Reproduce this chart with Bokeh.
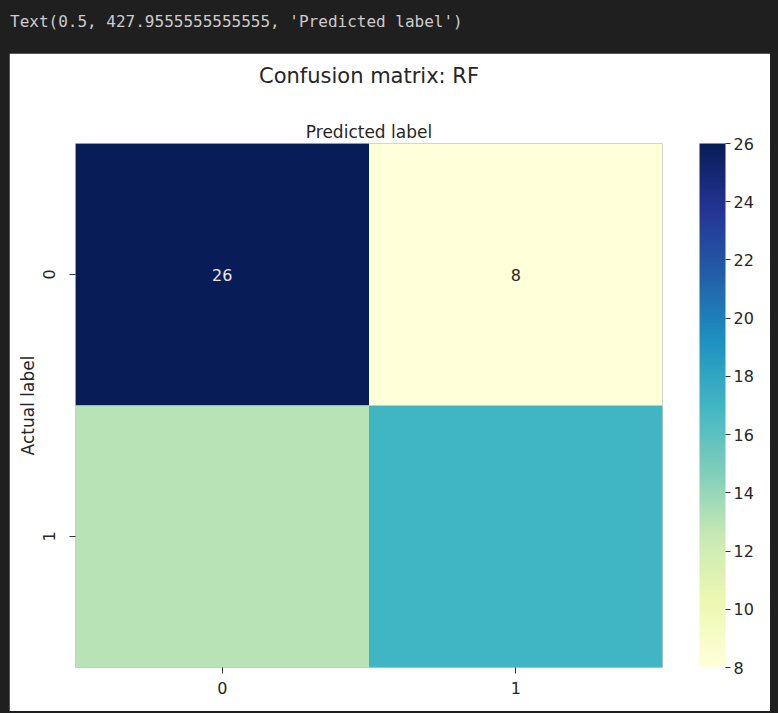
import numpy as np
from bokeh.plotting import figure
from bokeh.models import (ColumnDataSource, LinearColorMapper, ColorBar, FixedTicker,
                          Title, Div)
from bokeh.layouts import column
from bokeh.embed import file_html
from bokeh.resources import INLINE
from bokeh.palettes import YlGnBu9
from bokeh.core.properties import value

# ---- data ----
x_labels = ["0", "1"]          # predicted label
y_labels = ["0", "1"]          # actual label
actual = ["0", "0", "1", "1"]
predicted = ["0", "1", "0", "1"]
counts = [26, 8, 13, 17]
annot = ["26", "8", "", ""]    # only the first row is annotated in the reference
cbar_ticks = [8, 10, 12, 14, 16, 18, 20, 22, 24, 26]
vmin, vmax = 8, 26
header_text = "Text(0.5, 427.9555555555555, 'Predicted label')"

FONT = "DejaVu Sans"

# ---- continuous YlGnBu palette (light -> dark) ----
base = list(reversed(YlGnBu9))
def hex2rgb(h):
    h = h.lstrip("#")
    return [int(h[i:i + 2], 16) for i in (0, 2, 4)]
base_rgb = np.array([hex2rgb(c) for c in base], dtype=float)
pos = np.linspace(0, 1, len(base))
t = np.linspace(0, 1, 256)
interp = np.stack([np.interp(t, pos, base_rgb[:, k]) for k in range(3)], axis=1)
palette = ["#%02x%02x%02x" % tuple(int(round(v)) for v in row) for row in interp]

def lum_of(v):
    f = (v - vmin) / (vmax - vmin)
    r, g, b = interp[int(round(f * 255))] / 255.0
    return 0.2126 * r + 0.7152 * g + 0.0722 * b

text_colors = ["#e8e8f0" if lum_of(v) < 0.4 else "#262626" for v in counts]

source = ColumnDataSource(dict(actual=actual, predicted=predicted, counts=counts,
                               annot=annot, tcol=text_colors))

mapper = LinearColorMapper(palette=palette, low=vmin, high=vmax)

p = figure(x_range=x_labels, y_range=list(reversed(y_labels)),
           width=761, height=658, output_backend="svg", toolbar_location=None,
           min_border_left=66, min_border_right=108, min_border_bottom=44,
           min_border_top=90, background_fill_color="white",
           border_fill_color="white",
           title="Confusion matrix: RF")
p.margin = (0, 0, 0, 9)

p.rect(x="predicted", y="actual", width=1, height=1, source=source,
       fill_color={"field": "counts", "transform": mapper}, line_color=None)
p.text(x="predicted", y="actual", text="annot", source=source,
       text_align="center", text_baseline="middle", text_color="tcol",
       text_font_size="16px", text_font=value(FONT))

p.outline_line_color = None
p.grid.grid_line_color = None

for ax in (p.xaxis[0], p.yaxis[0]):
    ax.axis_line_color = None
    ax.major_tick_line_color = "#333333"
    ax.major_tick_out = 6
    ax.major_tick_in = 0
    ax.minor_tick_line_color = None
    ax.major_label_text_font_size = "16px"
    ax.major_label_text_color = "#262626"
    ax.major_label_text_font = FONT
    ax.axis_label_text_font_size = "17px"
    ax.axis_label_text_font_style = "normal"
    ax.axis_label_text_color = "#262626"
    ax.axis_label_text_font = FONT

p.yaxis.axis_label = "Actual label"
p.yaxis.major_label_orientation = "vertical"
p.yaxis.major_label_standoff = 15
p.yaxis.axis_label_standoff = 2
p.xaxis.major_label_standoff = 8

p.title.align = "center"
p.title.text_font_size = "21px"
p.title.text_font_style = "normal"
p.title.text_color = "#262626"
p.title.text_font = FONT
p.title.standoff = 4
p.add_layout(Title(text="Predicted label", align="center",
                   text_font_size="17px", text_font_style="normal",
                   text_color="#262626", text_font=FONT, standoff=4), "above")
# blank spacer between the axes label and the figure title
p.add_layout(Title(text=" ", align="center", text_font_size="16px",
                   text_font=FONT, standoff=7), "above")

cbar = ColorBar(color_mapper=mapper, ticker=FixedTicker(ticks=cbar_ticks),
                width=26, height=524, padding=0, margin=0, location=(37, 0),
                major_tick_out=5, major_tick_in=0,
                major_tick_line_color="#333333", minor_tick_line_color=None,
                bar_line_color=None, border_line_color=None,
                background_fill_color=None,
                major_label_text_font_size="16px",
                major_label_text_font=FONT,
                major_label_text_color="#262626", label_standoff=3)
p.add_layout(cbar, "right")

header = Div(text=header_text, width=778, height=53, margin=(0, 0, 0, 0),
             styles={"font-family": "DejaVu Sans Mono", "font-size": "16px",
                     "color": "#cccccc", "line-height": "26px",
                     "padding-left": "10px", "padding-top": "9px",
                     "white-space": "pre", "box-sizing": "border-box"})

layout = column(header, p, spacing=0)

html = file_html(layout, INLINE)
html = html.replace("</head>",
                    "<style>html,body{background-color:#1f1f1f;margin:0;padding:0;}</style></head>", 1)
open("out.html", "w").write(html)
